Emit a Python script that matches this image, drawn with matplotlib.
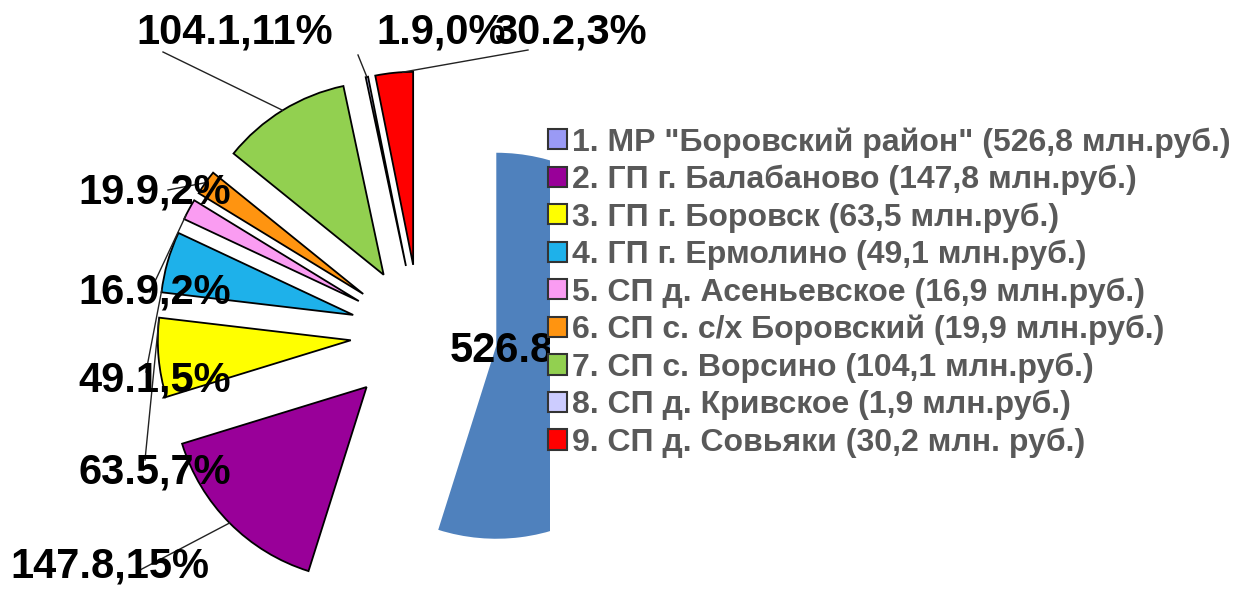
import numpy as np
import matplotlib.pyplot as plt
from matplotlib.patches import Patch, Rectangle

plt.rcParams['font.family'] = ['Liberation Sans', 'DejaVu Sans']

# données (млн.руб.)
valeurs = [526.8, 147.8, 63.5, 49.1, 16.9, 19.9, 104.1, 1.9, 30.2]
noms = ['1. МР "Боровский район" (526,8 млн.руб.)',
        '2. ГП г. Балабаново (147,8 млн.руб.)',
        '3. ГП г. Боровск (63,5 млн.руб.)',
        '4. ГП г. Ермолино (49,1 млн.руб.)',
        '5. СП д. Асеньевское (16,9 млн.руб.)',
        '6. СП с. с/х Боровский (19,9 млн.руб.)',
        '7. СП с. Ворсино (104,1 млн.руб.)',
        '8. СП д. Кривское (1,9 млн.руб.)',
        '9. СП д. Совьяки (30,2 млн. руб.)']
couleurs = ['#4f81bd', '#990099', '#ffff00', '#1eb1ea', '#fa9cf2',
            '#ff9410', '#92d050', '#ccccff', '#ff0000']
couleurs_legende = ['#9a9af5'] + couleurs[1:]

# mise en page en pixels
W, H = 1238, 589
cx, cy, R = 420, 334, 193

pos_etiquettes = [(450, 350), (10, 567), (78, 472), (78, 381), (78, 293),
                  (78, 193), (136, 32), (376, 32), (494, 32)]
depart_traits = [None, (140, 570), (145, 460), (146, 372), (150, 292),
                 (168, 190), (163, 52), (358, 55), (528, 50)]
frac_arc = [None, 0.5, 0.03, 0.95, 0.8, 0.5, 0.5, 0.5, 0.27]
eclatement = [0.40, 0.39, 0.36, 0.36, 0.36, 0.36, 0.36, 0.36, 0.36]


def px(x, y):
    return (x - cx) / R, (cy - y) / R


fig = plt.figure(figsize=(W / 100, H / 100), dpi=100)
ax = fig.add_axes([0, 0, 1, 1])

wedges, _ = ax.pie(valeurs, colors=couleurs, startangle=90, counterclock=False,
                   explode=eclatement,
                   wedgeprops=dict(edgecolor='black', linewidth=1.3))
wedges[0].set_edgecolor('none')

total = sum(valeurs)
for i, (v, w) in enumerate(zip(valeurs, wedges)):
    texte = f"{v:.1f},{100 * v / total:.0f}%"
    tx, ty = px(*pos_etiquettes[i])
    ax.text(tx, ty, texte, fontsize=30, fontweight='bold', color='black',
            ha='left', va='center', zorder=4)
    if depart_traits[i] is not None:
        a = np.radians(w.theta1 + frac_arc[i] * (w.theta2 - w.theta1))
        x1 = w.center[0] + w.r * np.cos(a)
        y1 = w.center[1] + w.r * np.sin(a)
        x0, y0 = px(*depart_traits[i])
        ax.plot([x0, x1], [y0, y1], color='#222222', linewidth=1, zorder=3)

ax.set_xlim(-cx / R, (W - cx) / R)
ax.set_ylim((cy - H) / R, cy / R)
ax.set_aspect('equal')
ax.axis('off')

# fond blanc de la légende (cache la grande part)
fig.add_artist(Rectangle((550 / W, 0), 1 - 550 / W, (H - 110) / H,
                         transform=fig.transFigure, facecolor='white',
                         edgecolor='none', zorder=1))

poignees = [Patch(facecolor=c, edgecolor='#333333', linewidth=1.5) for c in couleurs_legende]
leg = fig.legend(handles=poignees, labels=noms, loc='upper left',
                 bbox_to_anchor=(548 / W, 1 - 127 / H), frameon=False,
                 prop=dict(family='Liberation Sans', weight='bold', size=23),
                 labelcolor='#595959', handlelength=0.6, handleheight=0.6,
                 handletextpad=0.15, labelspacing=0.225, borderpad=0, borderaxespad=0)
leg.set_zorder(5)

fig.savefig('out.png', dpi=100)
